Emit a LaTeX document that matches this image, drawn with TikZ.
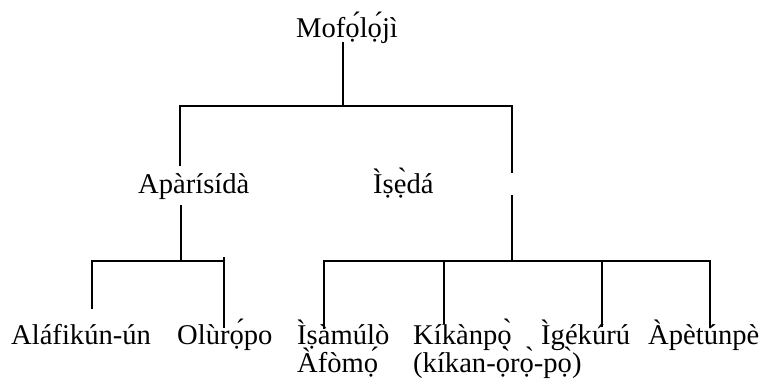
\documentclass[tikz,border=0pt]{standalone}
\usepackage{fontspec}
\setmainfont{Liberation Serif}
\begin{document}
\begin{tikzpicture}[x=1pt,y=-1pt,
  lbl/.style={inner sep=0pt, anchor=base west, font=\fontsize{28.6}{34}\selectfont},
  ln/.style={line width=2pt, line cap=rect}]
\useasboundingbox (0,0) rectangle (761,380);
% labels
\node[lbl] (root) at (296,37) {Mofọ́lọ́jì};
\node[lbl] (apa) at (138,193) {Apàrísídà};
\node[lbl] (ise) at (373,193) {Ìṣẹ̀dá};
\node[lbl] (ala) at (11,344) {Aláfikún-ún};
\node[lbl] (olu) at (177,344) {Olùrọ́po};
\node[lbl] (isa) at (297,344) {Ìṣàmúlò};
\node[lbl] (isa2) at (297,372) {Àfòmọ́};
\node[lbl] (kik) at (413,344) {Kíkànpọ̀};
\node[lbl] (kik2) at (413,372) {(kíkan-ọ̀rọ̀-pọ̀)};
\node[lbl] (ige) at (541,344) {Ìgékúrú};
\node[lbl] (ape) at (648,344) {Àpètúnpè};
% junction coordinates
\coordinate (r0) at (343,43);
\coordinate (r1) at (343,106);
\coordinate (aL) at (180,106);
\coordinate (aR) at (512,106);
\coordinate (aL2) at (180,165);
\coordinate (aR2) at (512,172);
\coordinate (b0) at (181,206);
\coordinate (b1) at (181,261);
\coordinate (bL) at (92,261);
\coordinate (bR) at (224,261);
\coordinate (bRt) at (224,258);
\coordinate (bL2) at (92,308);
\coordinate (bR2) at (224,327);
\coordinate (c0) at (512,196);
\coordinate (c1) at (512,261);
\coordinate (c1L) at (324,261);
\coordinate (c2) at (444,261);
\coordinate (c3) at (602,261);
\coordinate (c4) at (710,261);
\coordinate (c1Lb) at (324,328);
\coordinate (c2b) at (444,323);
\coordinate (c3b) at (602,326);
\coordinate (c4b) at (710,327);
% connectors
\draw[ln] (r0) -- (r1);
\draw[ln] (aL) -- (aR);
\draw[ln] (aL) -- (aL2);
\draw[ln] (aR) -- (aR2);
\draw[ln] (b0) -- (b1);
\draw[ln] (bL) -- (bR);
\draw[ln] (bL) -- (bL2);
\draw[ln] (bRt) -- (bR2);
\draw[ln] (c0) -- (c1);
\draw[ln] (c1L) -- (c4);
\draw[ln] (c1L) -- (c1Lb);
\draw[ln] (c2) -- (c2b);
\draw[ln] (c3) -- (c3b);
\draw[ln] (c4) -- (c4b);
\end{tikzpicture}
\end{document}
